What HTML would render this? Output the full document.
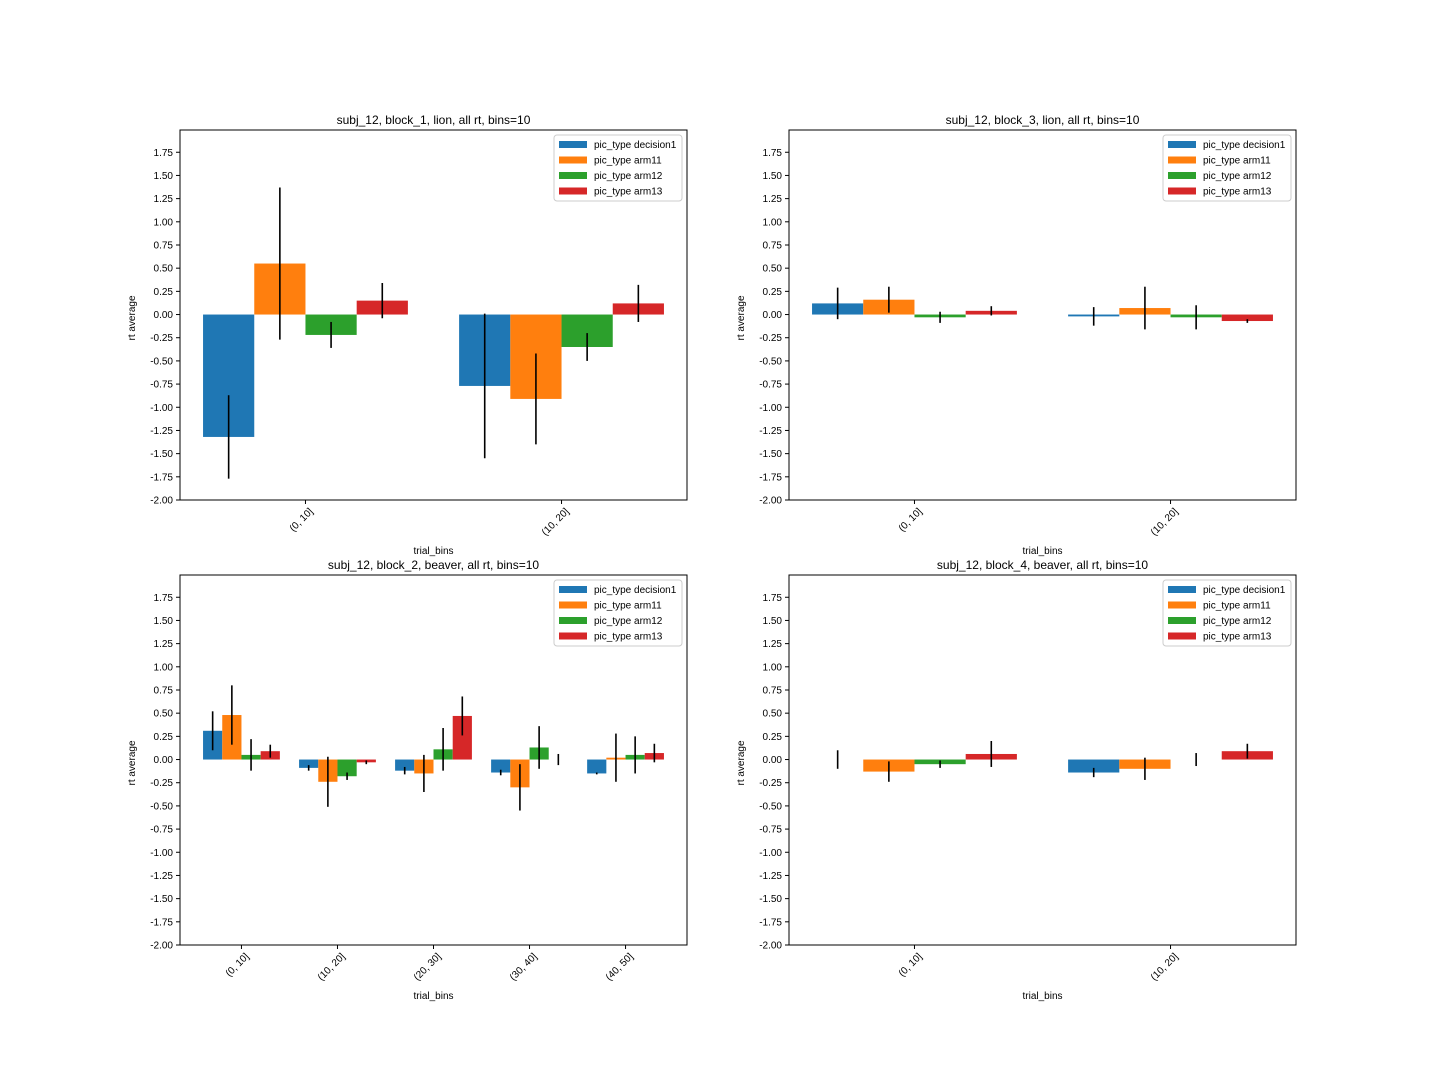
<!DOCTYPE html>
<html><head><meta charset="utf-8"><style>
body{margin:0;background:#fff;}
svg text{font-family:"Liberation Sans","DejaVu Sans",sans-serif;}
</style></head><body>
<svg id="fig" width="1440" height="1080" xmlns="http://www.w3.org/2000/svg"></svg>
<script>
const seriesNames = ["pic_type decision1","pic_type arm11","pic_type arm12","pic_type arm13"];
const colors = ["#1f77b4","#ff7f0e","#2ca02c","#d62728"];
const yTicks = [-2.0,-1.75,-1.5,-1.25,-1.0,-0.75,-0.5,-0.25,0.0,0.25,0.5,0.75,1.0,1.25,1.5,1.75];
const cats2 = ["(0, 10]","(10, 20]"];
const cats5 = ["(0, 10]","(10, 20]","(20, 30]","(30, 40]","(40, 50]"];
const titles = ["subj_12, block_1, lion, all rt, bins=10","subj_12, block_3, lion, all rt, bins=10","subj_12, block_2, beaver, all rt, bins=10","subj_12, block_4, beaver, all rt, bins=10"];
// values[series][category]
const valsA = [[-1.32,-0.77],[0.55,-0.91],[-0.22,-0.35],[0.15,0.12]];
const errA  = [[0.45,0.78],[0.82,0.49],[0.14,0.15],[0.19,0.20]];
const valsB = [[0.12,-0.02],[0.16,0.07],[-0.03,-0.03],[0.04,-0.07]];
const errB  = [[0.17,0.10],[0.14,0.23],[0.06,0.13],[0.05,0.02]];
const valsC = [[0.31,-0.09,-0.12,-0.14,-0.15],[0.48,-0.24,-0.15,-0.30,0.02],[0.05,-0.18,0.11,0.13,0.05],[0.09,-0.03,0.47,0.0,0.07]];
const errC  = [[0.21,0.03,0.04,0.03,0.01],[0.32,0.27,0.20,0.25,0.26],[0.17,0.04,0.23,0.23,0.20],[0.07,0.02,0.21,0.06,0.10]];
const valsD = [[0.0,-0.14],[-0.13,-0.10],[-0.05,0.0],[0.06,0.09]];
const errD  = [[0.10,0.05],[0.11,0.12],[0.04,0.07],[0.14,0.08]];

const NS="http://www.w3.org/2000/svg";
const svg=document.getElementById('fig');
function mk(tag,attrs,parent,text){const e=document.createElementNS(NS,tag);for(const k in attrs)e.setAttribute(k,attrs[k]);if(text!==undefined)e.textContent=text;(parent||svg).appendChild(e);return e;}

function panel(idx,x0,y0,cats,vals,errs){
  const W=507,H=370,ymin=-2.0,ymax=1.99;
  const g=mk('g',{});
  
  
  const n=cats.length;
  const span=n-0.2, xmin=-0.4-0.05*span, xmax=n-0.6+0.05*span;
  const xs=v=>x0+(v-xmin)/(xmax-xmin)*W;
  const ys=v=>y0+H-(v-ymin)/(ymax-ymin)*H;
  for(let s=0;s<vals.length;s++){
    for(let c=0;c<n;c++){
      const v=vals[s][c],e=errs[s][c];
      const left=xs(c-0.4+0.2*s),right=xs(c-0.2+0.2*s);
      const r=mk('rect',{x:left,y:Math.min(ys(v),ys(0)),width:right-left,height:Math.abs(ys(v)-ys(0)),fill:colors[s]},g);
      
      
      const cx=(left+right)/2;
      const l=mk('line',{x1:cx,x2:cx,y1:ys(v-e),y2:ys(v+e),stroke:'#000','stroke-width':1.6},g);
      
      
    }
  }
  const frame=mk('rect',{x:x0,y:y0,width:W,height:H,fill:'none',stroke:'#000','stroke-width':1},g);
  
  
  yTicks.forEach(t=>{
    const y=ys(t);
    mk('line',{x1:x0-4,x2:x0,y1:y,y2:y,stroke:'#000'},g);
    const tx=mk('text',{x:x0-7,y:y+3.5,'font-size':10,'text-anchor':'end'},g,t.toFixed(2));
    
    
  });
  cats.forEach((c,i)=>{
    const x=xs(i);
    mk('line',{x1:x,x2:x,y1:y0+H,y2:y0+H+4,stroke:'#000'},g);
    const tx=mk('text',{x:x+8,y:y0+H+12,'font-size':10,'text-anchor':'end',transform:`rotate(-45 ${x+8} ${y0+H+12})`},g,c);
    
    
  });
  const xl=mk('text',{x:x0+W/2,y:y0+H+54,'font-size':10,'text-anchor':'middle'},g,'trial_bins');
  
  
  const yl=mk('text',{x:x0-48,y:y0+H/2,'font-size':10,'text-anchor':'middle',transform:`rotate(-90 ${x0-45} ${y0+H/2})`},g,'rt average');
  
  
  const ti=mk('text',{x:x0+W/2,y:y0-6,'font-size':12,'text-anchor':'middle'},g,titles[idx]);
  
  
  const lg=mk('g',{},g);
  
  
  const lx=x0+W-133,ly=y0+5;
  mk('rect',{x:lx,y:ly,width:128,height:66,fill:'#fff',stroke:'#ccc',rx:3},lg);
  seriesNames.forEach((s,i)=>{
    const e=mk('g',{},lg);
    
    
    mk('rect',{x:lx+5,y:ly+6+i*15.5,width:28,height:7,fill:colors[i]},e);
    mk('text',{x:lx+40,y:ly+13+i*15.5,'font-size':10},e,s);
  });
}
panel(0,180,130,cats2,valsA,errA);
panel(1,789,130,cats2,valsB,errB);
panel(2,180,575,cats5,valsC,errC);
panel(3,789,575,cats2,valsD,errD);
</script>
</body></html>
